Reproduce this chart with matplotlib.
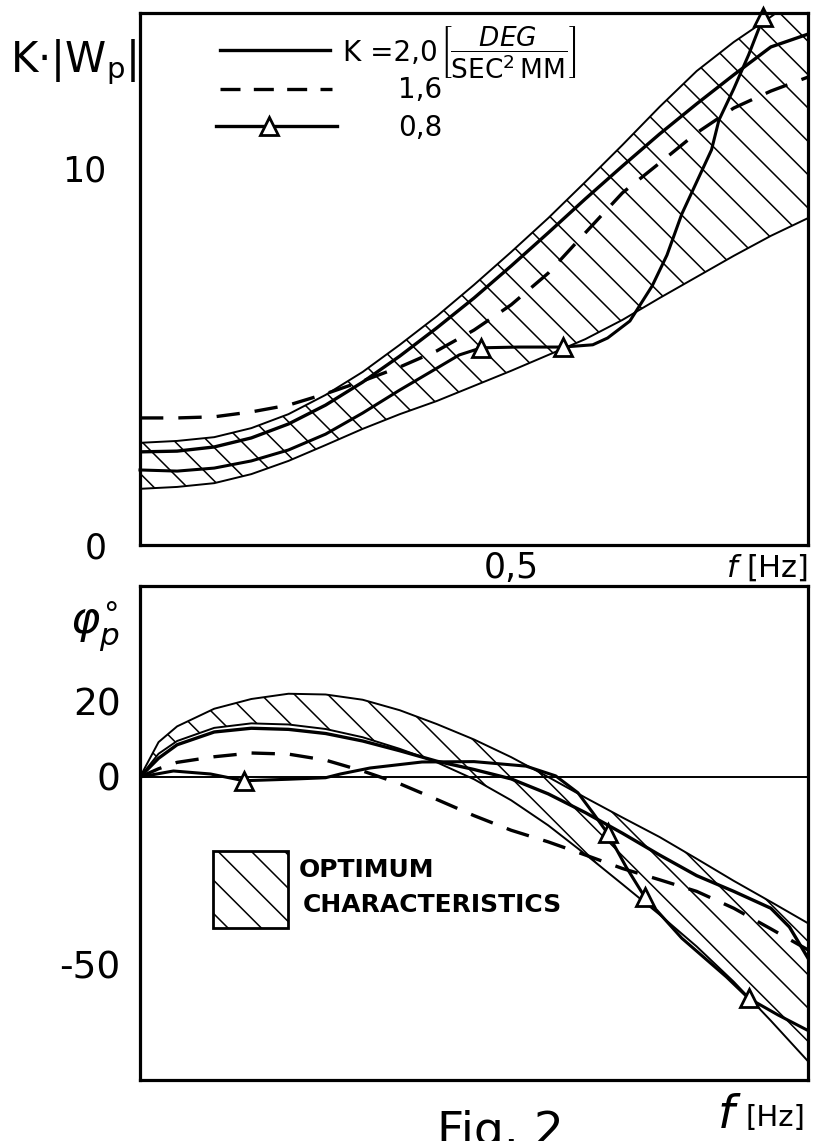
import matplotlib
matplotlib.use("Agg")
import matplotlib.pyplot as plt
from matplotlib.patches import Rectangle

# ---------------- data ----------------
# amplitude panel: K*|Wp| versus frequency [Hz]
freq_amp = [0.00, 0.05, 0.10, 0.15, 0.20, 0.25, 0.30, 0.35, 0.40, 0.45,
            0.50, 0.55, 0.60, 0.65, 0.70, 0.75, 0.80, 0.85, 0.90]
amp_opt_upper = [2.71, 2.76, 2.86, 3.10, 3.47, 3.98, 4.59, 5.31, 6.07, 6.90,
                 7.77, 8.67, 9.63, 10.61, 11.62, 12.57, 13.34, 14.01, 14.72]
amp_opt_lower = [1.49, 1.54, 1.64, 1.88, 2.23, 2.65, 3.08, 3.47, 3.82, 4.22,
                 4.62, 5.04, 5.46, 5.97, 6.55, 7.11, 7.67, 8.20, 8.67]
amp_k20 = [2.47, 2.49, 2.60, 2.84, 3.21, 3.71, 4.32, 5.01, 5.76, 6.55,
           7.40, 8.28, 9.18, 10.05, 10.90, 11.70, 12.47, 13.21, 13.55]
amp_k16 = [3.37, 3.37, 3.40, 3.53, 3.71, 4.01, 4.35, 4.72, 5.15, 5.70,
           6.37, 7.21, 8.28, 9.34, 10.13, 10.93, 11.59, 12.04, 12.41]
freq_amp_k08 = [0.00, 0.05, 0.10, 0.15, 0.20, 0.25, 0.30, 0.35, 0.40, 0.43,
                0.46, 0.51, 0.57, 0.61, 0.63, 0.66, 0.69, 0.71, 0.73, 0.75,
                0.77, 0.78, 0.80, 0.82, 0.84]
amp_k08 = [1.99, 1.96, 2.04, 2.23, 2.52, 2.94, 3.50, 4.11, 4.69, 5.04,
           5.23, 5.25, 5.25, 5.31, 5.49, 5.94, 6.87, 7.69, 8.78, 9.63,
           10.48, 11.27, 12.10, 13.00, 14.01]
amp_k08_marks = [10, 12, 24]

# phase panel: phi_p [deg] versus frequency [Hz]
freq_ph = [0.00, 0.025, 0.05, 0.10, 0.15, 0.20, 0.25, 0.30, 0.35, 0.40,
           0.45, 0.50, 0.55, 0.60, 0.65, 0.70, 0.75, 0.80, 0.85, 0.90]
ph_opt_upper = [0.0, 9.3, 13.5, 18.2, 20.8, 22.2, 22.0, 20.6, 17.8, 14.1,
                10.0, 5.3, 0.0, -5.5, -10.8, -16.0, -21.8, -27.7, -33.3, -39.0]
ph_opt_lower = [0.0, 6.2, 9.6, 13.1, 14.3, 14.0, 12.8, 10.6, 7.5, 3.9,
                -0.6, -6.2, -12.9, -20.6, -28.6, -36.7, -45.2, -54.6, -65.0, -75.8]
ph_k16 = [0.0, 2.2, 3.9, 5.4, 6.4, 6.1, 4.5, 1.6, -1.8, -6.0,
          -10.3, -14.2, -17.3, -20.8, -24.4, -27.4, -30.5, -35.0, -40.5, -46.1]
freq_ph_k20 = [0.00, 0.025, 0.05, 0.10, 0.15, 0.20, 0.25, 0.30, 0.35, 0.40,
               0.45, 0.50, 0.55, 0.60, 0.65, 0.70, 0.75, 0.80, 0.85, 0.875, 0.90]
ph_k20 = [0.0, 5.0, 8.6, 12.0, 13.0, 12.7, 11.6, 9.6, 7.0, 4.2,
          2.0, -0.5, -4.5, -9.5, -15.0, -20.8, -26.3, -30.5, -35.0, -40.0, -48.3]
freq_ph_k08 = [0.00, 0.045, 0.095, 0.14, 0.20, 0.25, 0.27, 0.31, 0.38, 0.45,
               0.52, 0.56, 0.59, 0.61, 0.63, 0.655, 0.68, 0.73, 0.79, 0.82,
               0.86, 0.90]
ph_k08 = [0.0, 1.6, 0.8, -1.0, -0.6, -0.2, 0.8, 2.4, 4.0, 4.1,
          2.9, 0.3, -4.2, -9.5, -15.0, -24.0, -32.0, -43.0, -53.3, -59.0,
          -63.5, -67.6]
ph_k08_marks = [3, 14, 16, 19]

amp_ticks = [0, 10]
amp_ticklabels = ["0", "10"]
ph_ticks = [-50, 0, 20]
ph_ticklabels = ["-50", "0", "20"]
freq_ticks = [0.5]
freq_ticklabels = ["0,5"]
legend_labels = ["K =2,0", "1,6", "0,8"]

# ---------------- style ----------------
plt.rcParams["font.family"] = ["DejaVu Sans"]
plt.rcParams["hatch.linewidth"] = 1.1
plt.rcParams["mathtext.fontset"] = "dejavusans"

W, H = 823, 1141
fig = plt.figure(figsize=(W / 100, H / 100), dpi=100)


def box(left, top, right, bottom):
    return [left / W, 1 - bottom / H, (right - left) / W, (bottom - top) / H]


ax1 = fig.add_axes(box(140, 13, 808, 545))
ax2 = fig.add_axes(box(140, 586, 808, 1080))

for ax in (ax1, ax2):
    for sp in ax.spines.values():
        sp.set_linewidth(2.3)
    ax.tick_params(length=0)
    ax.set_xlim(0, 0.9)

LW_BOUND = 1.4
LW_K = 2.4
DASH = (7, 4.5)

# ---- amplitude panel ----
ax1.set_ylim(0, 14.11)
ax1.fill_between(freq_amp, amp_opt_lower, amp_opt_upper, facecolor="none",
                 edgecolor="black", hatch="\\", linewidth=0)
ax1.plot(freq_amp, amp_opt_upper, color="black", lw=LW_BOUND)
ax1.plot(freq_amp, amp_opt_lower, color="black", lw=LW_BOUND)
ax1.plot(freq_amp, amp_k20, color="black", lw=LW_K)
ax1.plot(freq_amp, amp_k16, color="black", lw=LW_K, dashes=DASH)
ax1.plot(freq_amp_k08, amp_k08, color="black", lw=LW_K - 0.2,
         marker="^", markevery=amp_k08_marks, ms=13, mfc="white",
         mec="black", mew=2, clip_on=False)

ax1.set_yticks(amp_ticks, amp_ticklabels, fontsize=25)
ax1.tick_params(axis="y", pad=24)
ax1.set_xticks(freq_ticks, freq_ticklabels, fontsize=25)
ax1.tick_params(axis="x", pad=4)


# legend drawn inside the amplitude panel
def axfrac(px, py):
    return (px - 140) / 668, (545 - py) / 532


x0, y0 = axfrac(220, 50)
x1, _ = axfrac(330, 50)
ax1.plot([x0, x1], [y0, y0], transform=ax1.transAxes, color="black", lw=LW_K)
x0, y0 = axfrac(220, 89)
x1, _ = axfrac(332, 89)
ax1.plot([x0, x1], [y0, y0], transform=ax1.transAxes, color="black", lw=LW_K,
         dashes=(6, 4))
x0, y0 = axfrac(216, 126)
x1, _ = axfrac(337, 126)
xm, _ = axfrac(269, 126)
ax1.plot([x0, x1], [y0, y0], transform=ax1.transAxes, color="black", lw=LW_K)
ax1.plot([xm], [y0], transform=ax1.transAxes, marker="^", ms=13,
         mfc="white", mec="black", mew=2)

tx, ty = axfrac(343, 53)
ax1.text(tx, ty, legend_labels[0], transform=ax1.transAxes, fontsize=20,
         ha="left", va="center")
tx, ty = axfrac(440, 53)
ax1.text(tx, ty, r"$\left[\dfrac{\mathit{DEG}}{\mathrm{SEC}^{2}\,\mathrm{MM}}\right]$",
         transform=ax1.transAxes, fontsize=19, ha="left", va="center")
tx, ty = axfrac(398, 90)
ax1.text(tx, ty, legend_labels[1], transform=ax1.transAxes, fontsize=20,
         ha="left", va="center")
tx, ty = axfrac(398, 128)
ax1.text(tx, ty, legend_labels[2], transform=ax1.transAxes, fontsize=20,
         ha="left", va="center")

# ---- phase panel ----
ax2.set_ylim(-80.8, 50.93)
ax2.axhline(0, color="black", lw=1.4)
ax2.fill_between(freq_ph, ph_opt_lower, ph_opt_upper, facecolor="none",
                 edgecolor="black", hatch="\\", linewidth=0)
ax2.plot(freq_ph, ph_opt_upper, color="black", lw=LW_BOUND)
ax2.plot(freq_ph, ph_opt_lower, color="black", lw=LW_BOUND)
ax2.plot(freq_ph_k20, ph_k20, color="black", lw=LW_K)
ax2.plot(freq_ph, ph_k16, color="black", lw=LW_K, dashes=DASH)
ax2.plot(freq_ph_k08, ph_k08, color="black", lw=LW_K - 0.2,
         marker="^", markevery=ph_k08_marks, ms=13, mfc="white",
         mec="black", mew=2)

ax2.set_yticks(ph_ticks, ph_ticklabels, fontsize=27)
ax2.tick_params(axis="y", pad=14)
ax2.set_xticks([])

# hatched key for the optimum band
ax2.add_patch(Rectangle((0.109, 0.308), 0.1125, 0.156, transform=ax2.transAxes,
                        facecolor="none", edgecolor="black", hatch="\\", lw=2))
ax2.text(0.238, 0.425, "OPTIMUM", transform=ax2.transAxes, fontsize=18,
         fontweight="bold", ha="left", va="center")
ax2.text(0.243, 0.354, "CHARACTERISTICS", transform=ax2.transAxes, fontsize=18,
         fontweight="bold", ha="left", va="center")

# ---- axis titles and caption ----
fig.text(10 / W, 1 - 62 / H, r"K$\cdot$|W$_\mathregular{p}$|", fontsize=30,
         ha="left", va="center")
fig.text(95 / W, 1 - 627 / H, r"$\varphi_p^{\circ}$", fontsize=32,
         ha="center", va="center")
fig.text(808 / W, 1 - 568 / H, r"$f$ [Hz]", fontsize=22, ha="right",
         va="center")
fig.text(742 / W, 1 - 1115 / H, r"$f$", fontsize=34, ha="right", va="center")
fig.text(805 / W, 1 - 1118 / H, "[Hz]", fontsize=21, ha="right", va="center")
fig.text(500 / W, 1 - 1110 / H, "Fig. 2", fontsize=34, ha="center", va="top")

fig.savefig("out.png", dpi=100)
